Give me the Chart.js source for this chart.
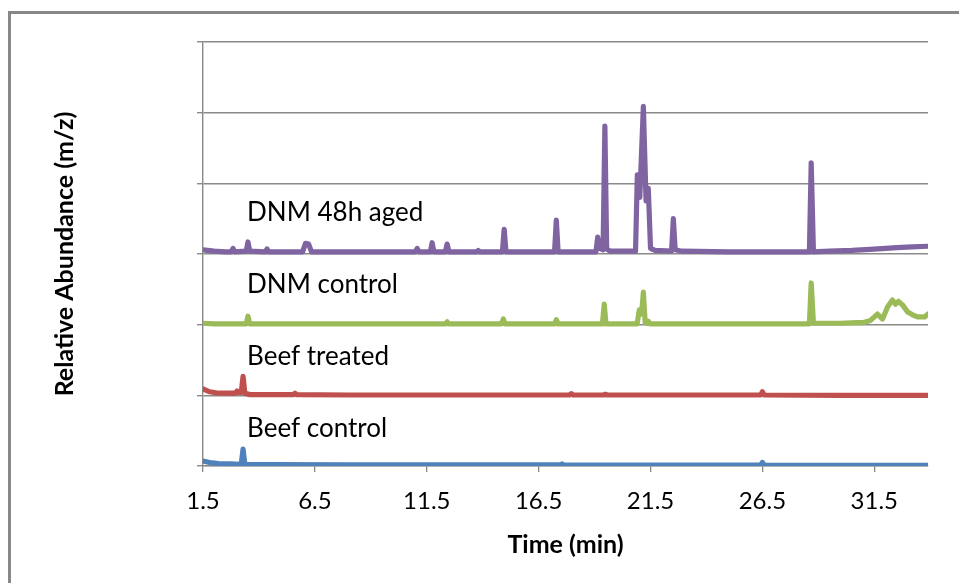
<!doctype html>
<html>
    <head>
        <meta charset="UTF-8" />
        <title>Chromatograms</title>
        <script src="https://cdn.jsdelivr.net/npm/chart.js@4"></script>
        <style>
            html, body { margin: 0; padding: 0; background: #fff; overflow: hidden; }
            #wrap { position: relative; width: 959px; height: 583px; }
            #frame { position: absolute; left: 8px; top: 11px; width: 2000px; height: 2000px;
                     border-left: 3px solid #888; border-top: 3px solid #888; pointer-events: none; }
        </style>
    </head>

    <body>
        <div id="wrap">
            <canvas id="myChart" width="959" height="583"></canvas>
            <div id="frame"></div>
        </div>

        <script>
        // Retention time (min) and stacked abundance for each trace
        var beefControlTime  = [1.5, 1.8, 2.2, 2.7, 3.21, 3.29, 3.37, 4.5, 8, 12, 17.47, 17.55, 17.63, 22, 26.42, 26.5, 26.58, 30, 33.9];
        var beefControlAbund = [0.07, 0.05, 0.035, 0.03, 0.025, 0.24, 0.025, 0.02, 0.015, 0.015, 0.015, 0.03, 0.015, 0.012, 0.012, 0.05, 0.012, 0.01, 0.01];

        var beefTreatedTime  = [1.5, 1.8, 2.2, 2.6, 2.94, 3.02, 3.1, 3.21, 3.29, 3.37, 3.6, 5.53, 5.61, 5.69, 8, 12, 17.88, 17.96, 18.04, 19.4, 19.48, 19.56, 22, 26.42, 26.5, 26.58, 30, 33.9];
        var beefTreatedAbund = [1.09, 1.05, 1.03, 1.03, 1.03, 1.06, 1.04, 1.04, 1.27, 1.03, 1.01, 1.01, 1.03, 1.01, 1.005, 1.005, 1.005, 1.025, 1.005, 1.005, 1.015, 1.005, 1.005, 1.005, 1.05, 1.005, 1.0, 1.0];

        var dnmControlTime  = [1.5, 2.0, 3.43, 3.51, 3.59, 6, 12.33, 12.41, 12.49, 14.84, 14.92, 15.0, 17.21, 17.29, 17.37, 19.35, 19.43, 19.51,
                               20.9, 21.0, 21.1, 21.18, 21.26, 21.34, 21.4, 21.48, 24, 28.6, 28.68, 28.78, 30.0, 30.7,
                               31.02, 31.33, 31.64, 31.87, 32.09, 32.31, 32.45, 32.58, 32.76, 32.99, 33.21, 33.43, 33.75, 33.9];
        var dnmControlAbund = [2.02, 2.01, 2.01, 2.12, 2.01, 2.01, 2.01, 2.04, 2.01, 2.01, 2.08, 2.01, 2.01, 2.07, 2.01, 2.01, 2.29, 2.01,
                               2.01, 2.21, 2.15, 2.46, 2.03, 2.02, 2.05, 2.01, 2.01, 2.01, 2.59, 2.02, 2.02, 2.03,
                               2.03, 2.06, 2.15, 2.08, 2.25, 2.35, 2.29, 2.33, 2.28, 2.18, 2.14, 2.11, 2.11, 2.15];

        var dnmAgedTime  = [1.5, 2.0, 2.5, 2.76, 2.84, 2.92, 3.43, 3.51, 3.59, 4.28, 4.36, 4.44, 5.95, 6.08, 6.22, 6.35,
                            10.99, 11.07, 11.15, 11.66, 11.74, 11.82, 12.33, 12.41, 12.49, 13.72, 13.8, 13.88, 14.88, 14.96, 15.04,
                            17.21, 17.29, 17.37, 19.06, 19.14, 19.22, 19.38, 19.46, 19.54, 19.7,
                            20.83, 20.91, 21.02, 21.18, 21.3, 21.4, 21.5, 21.7, 22.44, 22.52, 22.6, 22.9, 25,
                            28.6, 28.68, 28.78, 29.5, 30.5, 31.5, 32.5, 33.2, 33.9];
        var dnmAgedAbund = [3.06, 3.04, 3.03, 3.03, 3.08, 3.03, 3.04, 3.17, 3.04, 3.03, 3.07, 3.03, 3.03, 3.15, 3.14, 3.03,
                            3.03, 3.08, 3.03, 3.03, 3.16, 3.03, 3.03, 3.14, 3.03, 3.03, 3.05, 3.03, 3.03, 3.35, 3.03,
                            3.03, 3.48, 3.03, 3.03, 3.24, 3.08, 3.06, 4.81, 3.07, 3.04,
                            3.04, 4.12, 3.8, 5.09, 3.75, 3.93, 3.08, 3.05, 3.04, 3.50, 3.06, 3.04, 3.03,
                            3.03, 4.29, 3.03, 3.04, 3.05, 3.07, 3.09, 3.1, 3.11];

        var seriesNames = ['Beef control', 'Beef treated', 'DNM control', 'DNM 48h aged'];
        var xTickValues = [1.5, 6.5, 11.5, 16.5, 21.5, 26.5, 31.5];
        var yGridValues = [0, 1, 2, 3, 4, 5, 6];

        var seriesColors = ['#4F81BD', '#C0504D', '#9BBB59', '#8064A2'];
        var labelTime = 3.47;
        var labelLevel = [0.41, 1.43, 2.45, 3.47];

        function toPoints(times, values) {
            return times.map(function (t, i) { return { x: t, y: values[i] }; });
        }

        var allTimes = [beefControlTime, beefTreatedTime, dnmControlTime, dnmAgedTime];
        var allValues = [beefControlAbund, beefTreatedAbund, dnmControlAbund, dnmAgedAbund];

        var datasets = seriesNames.map(function (name, i) {
            return {
                label: name,
                data: toPoints(allTimes[i], allValues[i]),
                borderColor: seriesColors[i],
                backgroundColor: seriesColors[i],
                borderWidth: 5.2,
                pointRadius: 0,
                tension: 0,
                borderJoinStyle: 'round',
                borderCapStyle: 'round'
            };
        });

        // names written next to each trace
        var traceLabels = {
            id: 'traceLabels',
            afterDatasetsDraw: function (chart) {
                var ctx = chart.ctx, xs = chart.scales.x, ys = chart.scales.y;
                ctx.save();
                ctx.font = '26px Lato';
                ctx.fillStyle = '#000';
                ctx.textBaseline = 'alphabetic';
                ctx.textAlign = 'left';
                seriesNames.forEach(function (name, i) {
                    ctx.fillText(name, xs.getPixelForValue(labelTime), ys.getPixelForValue(labelLevel[i]));
                });
                ctx.restore();
            }
        };

        var ctx = document.getElementById('myChart').getContext('2d');
        var myChart = new Chart(ctx, {
            type: 'line',
            data: { datasets: datasets },
            plugins: [traceLabels],
            options: {
                responsive: false,
                animation: false,
                layout: { padding: { left: 0, top: 42, right: 31, bottom: 0 } },
                plugins: { legend: { display: false }, tooltip: { enabled: false } },
                scales: {
                    x: {
                        type: 'linear',
                        min: 1.5,
                        max: 33.9,
                        afterBuildTicks: function (axis) {
                            axis.ticks = xTickValues.map(function (v) { return { value: v }; });
                        },
                        afterFit: function (axis) { axis.height = 117; },
                        ticks: {
                            autoSkip: false,
                            maxRotation: 0,
                            padding: 15,
                            color: '#000',
                            font: { family: 'Lato', size: 24 },
                            callback: function (v) { return String(v); }
                        },
                        grid: { drawOnChartArea: false, drawTicks: true, tickLength: 6, color: '#888', lineWidth: 1.3 },
                        border: { color: '#888', width: 1.3 },
                        title: {
                            display: true,
                            text: 'Time (min)',
                            color: '#000',
                            font: { family: 'Lato', size: 25, weight: 'bold' },
                            padding: { top: 0, bottom: 23 }
                        }
                    },
                    y: {
                        min: 0,
                        max: 6,
                        afterBuildTicks: function (axis) {
                            axis.ticks = yGridValues.map(function (v) { return { value: v }; });
                        },
                        afterFit: function (axis) { axis.width = 203; },
                        ticks: { callback: function () { return ''; } },
                        grid: { color: '#8a8a8a', lineWidth: 1.4, tickLength: 6 },
                        border: { color: '#888', width: 1.4 },
                        title: {
                            display: true,
                            text: 'Relative Abundance (m/z)',
                            color: '#000',
                            font: { family: 'Lato', size: 25, weight: 'bold' },
                            padding: { top: 50, bottom: 0 }
                        }
                    }
                }
            }
        });
        </script>
    </body>
</html>
